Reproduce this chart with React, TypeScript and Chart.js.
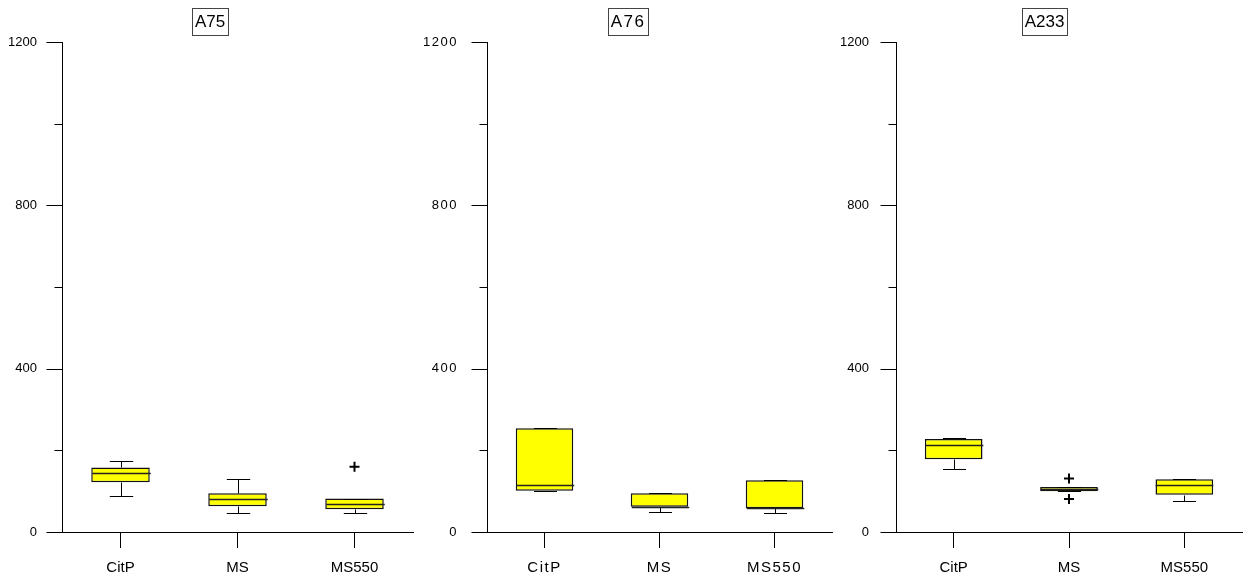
import React, { useEffect, useRef } from 'react';
import { Chart, registerables } from 'chart.js';

Chart.register(...registerables);

const categories = ['CitP', 'MS', 'MS550'];
const yMin = 0;
const yMax = 1200;
const yStep = 200;
const yLabelStep = 400;

const a75Min = [87, 46, 46];
const a75Q1 = [122, 63, 56];
const a75Median = [144, 80, 68];
const a75Q3 = [158, 95, 82];
const a75Max = [174, 130, 82];
const a75Outliers = [[], [], [160]];

const a76Min = [101, 48, 46];
const a76Q1 = [101, 62, 58];
const a76Median = [116, 62, 58];
const a76Q3 = [254, 95, 127];
const a76Max = [254, 95, 127];
const a76Outliers = [[], [], []];

const a233Min = [155, 100, 76];
const a233Q1 = [178, 100, 91];
const a233Median = [213, 105, 116];
const a233Q3 = [228, 110, 129];
const a233Max = [231, 110, 131];
const a233Outliers = [[], [131, 81], []];

const FONT = "'Liberation Sans', Arial, Helvetica, sans-serif";

type PanelCfg = {
  title: string;
  min: number[];
  q1: number[];
  median: number[];
  q3: number[];
  max: number[];
  outliers: number[][];
  left: number;
  width: number;
  axisW: number;
  padRight: number;
  labelPad: number;
  spacing: string;
};

const panels: PanelCfg[] = [
  { title: 'A75', min: a75Min, q1: a75Q1, median: a75Median, q3: a75Q3, max: a75Max, outliers: a75Outliers, left: 0, width: 420, axisW: 62, padRight: 5, labelPad: 25, spacing: '0px' },
  { title: 'A76', min: a76Min, q1: a76Q1, median: a76Median, q3: a76Q3, max: a76Max, outliers: a76Outliers, left: 420, width: 416, axisW: 67, padRight: 4, labelPad: 29, spacing: '1.5px' },
  { title: 'A233', min: a233Min, q1: a233Q1, median: a233Median, q3: a233Q3, max: a233Max, outliers: a233Outliers, left: 840, width: 409, axisW: 56, padRight: 0, labelPad: 27, spacing: '0px' },
];

const boxPlugin = {
  id: 'boxextras',
  beforeLayout(chart: any, _a: any, opts: any) {
    (chart.ctx as any).letterSpacing = opts.spacing || '0px';
  },
  beforeDraw(chart: any, _a: any, opts: any) {
    (chart.ctx as any).letterSpacing = opts.spacing || '0px';
  },
  afterDatasetsDraw(chart: any, _a: any, opts: any) {
    const ctx = chart.ctx as CanvasRenderingContext2D;
    const x = chart.scales.x;
    const y = chart.scales.y;
    const catW = x.width / categories.length;
    const capHalf = catW * 0.1;
    const boxHalf = catW * 0.25;
    const py = (v: number) => Math.round(y.getPixelForValue(v)) + 0.5;
    ctx.save();
    categories.forEach((_, i) => {
      const cx = Math.round(x.getPixelForValue(i)) + 0.5;
      const pMin = py(opts.min[i]);
      const pQ1 = py(opts.q1[i]);
      const pQ3 = py(opts.q3[i]);
      const pMax = py(opts.max[i]);
      const pMed = py(opts.median[i]);
      ctx.strokeStyle = '#000';
      ctx.lineWidth = 1;
      ctx.beginPath();
      ctx.moveTo(cx, pQ1);
      ctx.lineTo(cx, pMin);
      ctx.moveTo(cx - capHalf, pMin);
      ctx.lineTo(cx + capHalf, pMin);
      ctx.moveTo(cx, pQ3);
      ctx.lineTo(cx, pMax);
      ctx.moveTo(cx - capHalf, pMax);
      ctx.lineTo(cx + capHalf, pMax);
      ctx.stroke();
      ctx.strokeStyle = '#222';
      ctx.lineWidth = 1.5;
      ctx.beginPath();
      ctx.moveTo(cx - boxHalf, pMed);
      ctx.lineTo(cx + boxHalf, pMed);
      ctx.stroke();
    });
    // y-axis tick marks (major long, minor short)
    const ax = Math.round(chart.chartArea.left) + 0.5;
    ctx.strokeStyle = '#000';
    ctx.lineWidth = 1;
    ctx.beginPath();
    y.ticks.forEach((t: any) => {
      const p = py(t.value);
      const len = t.value % yLabelStep === 0 ? 16 : 8;
      ctx.moveTo(ax - len, p);
      ctx.lineTo(ax, p);
    });
    ctx.stroke();
    ctx.restore();
  },
  afterDraw(chart: any, _a: any, opts: any) {
    const ctx = chart.ctx as CanvasRenderingContext2D;
    ctx.save();
    (ctx as any).letterSpacing = opts.spacing || '0px';
    ctx.font = `17px ${FONT}`;
    const w = ctx.measureText(opts.title).width;
    const cx = chart.width / 2;
    ctx.fillStyle = '#000';
    ctx.textAlign = 'center';
    ctx.textBaseline = 'middle';
    ctx.fillText(opts.title, cx, 22);
    ctx.strokeStyle = '#444';
    ctx.lineWidth = 1;
    const l = Math.round(cx - w / 2 - 3) + 0.5;
    const r = Math.round(cx + w / 2 + 3) + 0.5;
    ctx.strokeRect(l, 8.5, r - l, 27);
    ctx.restore();
  },
};

function Panel({ cfg }: { cfg: PanelCfg }) {
  const ref = useRef<HTMLCanvasElement>(null);
  useEffect(() => {
    if (!ref.current) return;
    const nOut = Math.max(0, ...cfg.outliers.map((o) => o.length));
    const outlierSets = Array.from({ length: nOut }, (_, k) => ({
      type: 'line' as const,
      data: categories.map((_, i) => (cfg.outliers[i][k] !== undefined ? cfg.outliers[i][k] : null)),
      showLine: false,
      pointStyle: 'cross' as const,
      pointRadius: 5,
      pointBorderWidth: 2,
      borderColor: '#000',
      backgroundColor: '#000',
      order: 0,
    }));
    const chart = new Chart(ref.current, {
      type: 'bar',
      data: {
        labels: categories,
        datasets: [
          {
            type: 'bar',
            data: categories.map((_, i) => [cfg.q1[i], cfg.q3[i]]) as any,
            backgroundColor: '#ffff00',
            borderColor: '#111',
            borderWidth: 1.5,
            borderSkipped: false,
            barPercentage: 0.5,
            categoryPercentage: 1,
            order: 2,
          } as any,
          ...(outlierSets as any[]),
        ],
      },
      options: {
        responsive: false,
        animation: false,
        events: [],
        layout: { padding: { top: 42, right: cfg.padRight, left: 0, bottom: 0 } },
        plugins: {
          legend: { display: false },
          tooltip: { enabled: false },
          title: { display: false },
          boxextras: {
            min: cfg.min,
            q1: cfg.q1,
            median: cfg.median,
            q3: cfg.q3,
            max: cfg.max,
            title: cfg.title,
            spacing: cfg.spacing,
          },
        } as any,
        scales: {
          x: {
            type: 'category',
            offset: true,
            grid: { display: true, drawOnChartArea: false, drawTicks: true, tickLength: 16, offset: false, color: '#000' },
            border: { display: true, color: '#000', width: 1 },
            ticks: { font: { size: 15, family: FONT }, color: '#000', padding: 11, maxRotation: 0 },
            afterFit: (s: any) => {
              s.height = 49;
            },
          },
          y: {
            min: yMin,
            max: yMax,
            grid: { display: false, drawTicks: false },
            border: { display: true, color: '#000', width: 1 },
            ticks: {
              stepSize: yStep,
              font: { size: 13, family: FONT },
              color: '#000',
              padding: cfg.labelPad,
              callback: (v: any) => (Number(v) % yLabelStep === 0 ? String(v) : ''),
            },
            afterFit: (s: any) => {
              s.width = cfg.axisW;
            },
          },
        },
      },
      plugins: [boxPlugin as any],
    });
    return () => chart.destroy();
  }, [cfg]);
  return (
    <canvas
      ref={ref}
      width={cfg.width}
      height={581}
      style={{ position: 'absolute', left: cfg.left, top: 0, display: 'block' }}
    />
  );
}

export default function App() {
  return (
    <div
      style={{
        position: 'fixed',
        left: 0,
        top: 0,
        width: 1246,
        height: 581,
        overflow: 'hidden',
        background: '#fff',
      }}
    >
      {panels.map((p) => (
        <Panel key={p.title} cfg={p} />
      ))}
    </div>
  );
}
